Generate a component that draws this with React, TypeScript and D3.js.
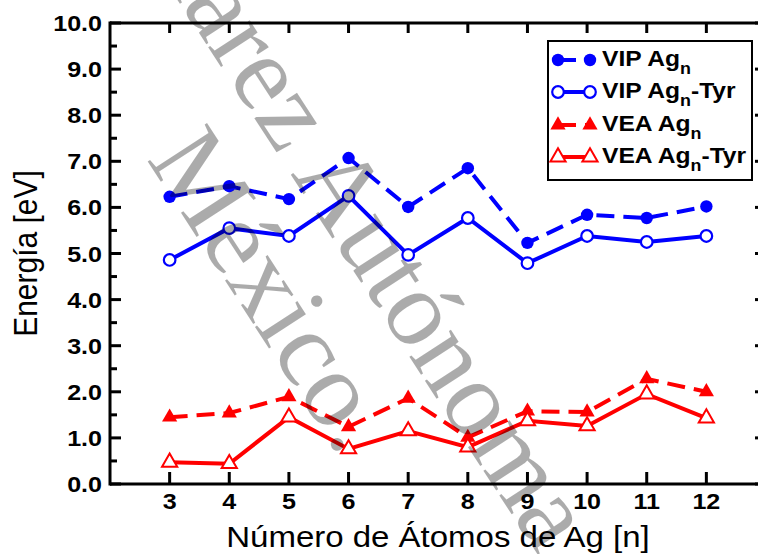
import React from 'react';
import * as d3 from 'd3';

// Cluster size n for Ag_n
const clusterSizes = [3, 4, 5, 6, 7, 8, 9, 10, 11, 12];
// Vertical ionization potential (eV)
const vipAg = [6.23, 6.46, 6.18, 7.07, 6.01, 6.85, 5.23, 5.84, 5.77, 6.02];
const vipAgTyr = [4.86, 5.55, 5.38, 6.25, 4.97, 5.77, 4.79, 5.38, 5.25, 5.38];
// Vertical electron affinity (eV)
const veaAg = [1.45, 1.54, 1.89, 1.24, 1.86, 1.01, 1.58, 1.56, 2.28, 2.0];
const veaAgTyr = [0.47, 0.44, 1.45, 0.76, 1.15, 0.8, 1.37, 1.26, 1.95, 1.43];

const yMajorTicks = [0, 1, 2, 3, 4, 5, 6, 7, 8, 9, 10];
const yMinorTicks = [0.5, 1.5, 2.5, 3.5, 4.5, 5.5, 6.5, 7.5, 8.5, 9.5];
const xTicks = [3, 4, 5, 6, 7, 8, 9, 10, 11, 12];

const xTitle = 'Número de Átomos de Ag [n]';
const yTitle = 'Energía [eV]';
const watermarkLine1 = 'Juárez Autónoma';
const watermarkLine2 = 'México.';

type Series = {
  prefix: string;
  suffix: string;
  values: number[];
  color: string;
  dashed: boolean;
  marker: 'circle' | 'triangle';
  filled: boolean;
};

const series: Series[] = [
  { prefix: 'VIP Ag', suffix: '', values: vipAg, color: '#0000ff', dashed: true, marker: 'circle', filled: true },
  { prefix: 'VIP Ag', suffix: '-Tyr', values: vipAgTyr, color: '#0000ff', dashed: false, marker: 'circle', filled: false },
  { prefix: 'VEA Ag', suffix: '', values: veaAg, color: '#ff0000', dashed: true, marker: 'triangle', filled: true },
  { prefix: 'VEA Ag', suffix: '-Tyr', values: veaAgTyr, color: '#ff0000', dashed: false, marker: 'triangle', filled: false },
];

const W = 758;
const H = 554;
const left = 110;
const right = 766;
const top = 23;
const bottom = 484;

const x = d3.scaleLinear().domain([2, 13]).range([left, right]);
const y = d3.scaleLinear().domain([0, 10]).range([bottom, top]);

const SANS = '"Liberation Sans", Arial, Helvetica, sans-serif';
const SERIF = '"Liberation Serif", "Times New Roman", serif';
const DASH = '18,9';
const triPath = d3.symbol(d3.symbolTriangle, 100)() as string;

function Marker({ s, cx, cy }: { s: Series; cx: number; cy: number }) {
  if (s.marker === 'circle') {
    return s.filled ? (
      <circle cx={cx} cy={cy} r={6.2} fill={s.color} />
    ) : (
      <circle cx={cx} cy={cy} r={5.8} fill="#fff" stroke={s.color} strokeWidth={2.2} />
    );
  }
  return (
    <path
      d={triPath}
      transform={`translate(${cx},${cy})`}
      fill={s.filled ? s.color : '#fff'}
      stroke={s.color}
      strokeWidth={s.filled ? 0 : 2}
    />
  );
}

// Text with a slight horizontal stretch, anchored at (tx, ty)
function SText({
  tx,
  ty,
  sx = 1.14,
  anchor = 'start',
  size,
  weight = 'normal',
  children,
}: {
  tx: number;
  ty: number;
  sx?: number;
  anchor?: 'start' | 'middle' | 'end';
  size: number;
  weight?: string;
  children: React.ReactNode;
}) {
  return (
    <text
      transform={`translate(${tx},${ty}) scale(${sx},1)`}
      textAnchor={anchor}
      fontFamily={SANS}
      fontSize={size}
      fontWeight={weight}
      fill="#000"
    >
      {children}
    </text>
  );
}

export default function App() {
  const line = d3
    .line<number>()
    .x((_, i) => x(clusterSizes[i]))
    .y((v) => y(v));

  const legendX0 = 558;
  const legendX1 = 590;
  const legendRowY = [60, 92, 125, 157];

  return (
    <svg
      width={W}
      height={H}
      viewBox={`0 0 ${W} ${H}`}
      style={{ position: 'absolute', left: 0, top: 0, background: '#fff' }}
    >
      <rect x={0} y={0} width={W} height={H} fill="#fff" />

      {/* data lines */}
      {series.map((s, si) => (
        <g key={si}>
          <path
            d={line(s.values) as string}
            fill="none"
            stroke={s.color}
            strokeWidth={4}
            strokeDasharray={s.dashed ? DASH : undefined}
            strokeLinejoin="miter"
          />
          {s.values.map((v, i) => (
            <Marker key={i} s={s} cx={x(clusterSizes[i])} cy={y(v)} />
          ))}
        </g>
      ))}

      {/* frame */}
      <g stroke="#000" strokeWidth={3} fill="none">
        <line x1={left} y1={bottom} x2={right} y2={bottom} />
        <line x1={left} y1={top} x2={right} y2={top} />
        <line x1={left} y1={top - 1.5} x2={left} y2={bottom + 1.5} />
        <line x1={right} y1={top - 1.5} x2={right} y2={bottom + 1.5} />
        {xTicks.map((t) => (
          <g key={`xt${t}`}>
            <line x1={x(t)} y1={bottom} x2={x(t)} y2={bottom - 12} />
            <line x1={x(t)} y1={top} x2={x(t)} y2={top + 10} />
          </g>
        ))}
        {yMajorTicks.map((t) => (
          <g key={`ym${t}`}>
            <line x1={left} y1={y(t)} x2={left + 11} y2={y(t)} />
            <line x1={right} y1={y(t)} x2={right - 11} y2={y(t)} />
          </g>
        ))}
        {yMinorTicks.map((t) => (
          <g key={`yn${t}`}>
            <line x1={left} y1={y(t)} x2={left + 7} y2={y(t)} />
            <line x1={right} y1={y(t)} x2={right - 7} y2={y(t)} />
          </g>
        ))}
      </g>

      {/* tick labels */}
      {yMajorTicks.map((t) => (
        <SText key={`yl${t}`} tx={102} ty={y(t) + 8} anchor="end" size={22} weight="bold">
          {t.toFixed(1)}
        </SText>
      ))}
      {xTicks.map((t) => (
        <SText key={`xl${t}`} tx={x(t)} ty={509} anchor="middle" size={22} weight="bold">
          {t}
        </SText>
      ))}

      {/* axis titles */}
      <SText tx={(left + right) / 2} ty={547} anchor="middle" size={30} sx={1.1}>
        {xTitle}
      </SText>
      <text
        transform={`translate(37,${(top + bottom) / 2}) rotate(-90) scale(1,1.1)`}
        textAnchor="middle"
        fontFamily={SANS}
        fontSize={30}
        fill="#000"
      >
        {yTitle}
      </text>

      {/* legend */}
      <rect x={548} y={41} width={204} height={139} fill="#fff" stroke="#000" strokeWidth={2} />
      {series.map((s, i) => {
        const ly = legendRowY[i];
        return (
          <g key={`lg${i}`}>
            <line
              x1={legendX0}
              y1={ly}
              x2={legendX1}
              y2={ly}
              stroke={s.color}
              strokeWidth={4}
              strokeDasharray={s.dashed ? DASH : undefined}
            />
            <Marker s={s} cx={legendX0} cy={ly} />
            <Marker s={s} cx={legendX1} cy={ly} />
            <SText tx={602} ty={ly + 6} size={22} weight="bold" sx={1.12}>
              {s.prefix}
              <tspan fontSize={16} dy={8}>
                n
              </tspan>
              {s.suffix ? <tspan dy={-8}>{s.suffix}</tspan> : null}
            </SText>
          </g>
        );
      })}

      {/* watermark */}
      <g
        transform="translate(146,159) rotate(57)"
        fontFamily={SERIF}
        fontSize={108}
        fill="#000"
        fillOpacity={0.33}
      >
        <text x={-206} y={-113}>
          {watermarkLine1}
        </text>
        <text x={0} y={0}>
          {watermarkLine2}
        </text>
      </g>
    </svg>
  );
}
